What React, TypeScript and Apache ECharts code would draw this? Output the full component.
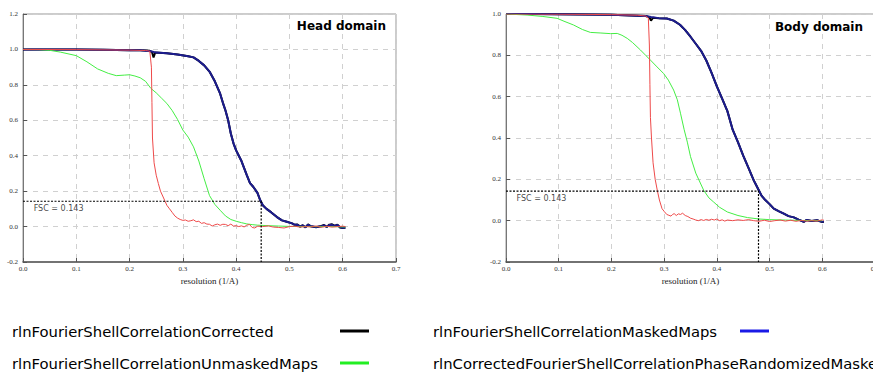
import React, { useEffect, useRef } from "react";
import * as echarts from "echarts";

// ---------- data: Head domain ----------
const headCorrected: [number, number][] = [
  [0, 1.0], [0.05, 1.0], [0.1, 0.999], [0.15, 0.998], [0.2, 0.996], [0.22, 0.995], [0.238, 0.992],
  [0.242, 0.985], [0.245, 0.955], [0.248, 0.982], [0.27, 0.978], [0.29, 0.972], [0.31, 0.962],
  [0.32, 0.955], [0.33, 0.935], [0.34, 0.91], [0.35, 0.875], [0.36, 0.82], [0.37, 0.75], [0.375, 0.7],
  [0.38, 0.655], [0.385, 0.6], [0.39, 0.525], [0.395, 0.47], [0.4, 0.43], [0.405, 0.4], [0.41, 0.37],
  [0.415, 0.33], [0.42, 0.29], [0.426, 0.245], [0.432, 0.225], [0.44, 0.19], [0.445, 0.15], [0.45, 0.12],
  [0.457, 0.1], [0.466, 0.08], [0.476, 0.055], [0.486, 0.035], [0.495, 0.027], [0.505, 0.018],
  [0.51, 0.01], [0.515, 0.012], [0.52, 0.0], [0.525, 0.008], [0.53, -0.005], [0.535, 0.012], [0.54, 0.002],
  [0.55, -0.004], [0.56, 0.003], [0.565, 0.009], [0.57, -0.002], [0.575, 0.011], [0.58, 0.013],
  [0.585, 0.004], [0.59, 0.011], [0.595, -0.005], [0.6, -0.008], [0.605, -0.006],
];
const headMasked: [number, number][] = [
  [0, 1.0], [0.05, 1.0], [0.1, 0.999], [0.15, 0.998], [0.2, 0.996], [0.22, 0.995], [0.24, 0.99],
  [0.25, 0.982], [0.27, 0.978], [0.29, 0.972], [0.31, 0.962], [0.32, 0.955], [0.33, 0.935], [0.34, 0.91],
  [0.35, 0.875], [0.36, 0.82], [0.37, 0.75], [0.375, 0.7], [0.38, 0.655], [0.385, 0.6], [0.39, 0.525],
  [0.395, 0.47], [0.4, 0.43], [0.405, 0.4], [0.41, 0.37], [0.415, 0.33], [0.42, 0.29], [0.426, 0.245],
  [0.432, 0.225], [0.44, 0.19], [0.445, 0.15], [0.45, 0.12], [0.457, 0.1], [0.466, 0.08], [0.476, 0.055],
  [0.486, 0.035], [0.495, 0.027], [0.505, 0.018], [0.51, 0.01], [0.515, 0.01], [0.52, 0.0], [0.525, 0.006],
  [0.53, -0.004], [0.535, 0.01], [0.54, 0.002], [0.55, -0.003], [0.56, 0.002], [0.565, 0.007],
  [0.57, -0.002], [0.575, 0.009], [0.58, 0.01], [0.585, 0.003], [0.59, 0.009], [0.595, -0.004],
  [0.6, -0.007], [0.605, -0.006],
];
const headUnmasked: [number, number][] = [
  [0, 1.0], [0.03, 0.999], [0.05, 0.995], [0.07, 0.985], [0.1, 0.965], [0.12, 0.93], [0.14, 0.89],
  [0.16, 0.865], [0.175, 0.852], [0.19, 0.855], [0.2, 0.857], [0.21, 0.85], [0.22, 0.84], [0.23, 0.82],
  [0.24, 0.78], [0.25, 0.755], [0.26, 0.725], [0.27, 0.695], [0.28, 0.655], [0.29, 0.605], [0.3, 0.545],
  [0.31, 0.505], [0.32, 0.45], [0.33, 0.37], [0.34, 0.27], [0.35, 0.175], [0.36, 0.125], [0.37, 0.092],
  [0.38, 0.06], [0.39, 0.04], [0.4, 0.03], [0.41, 0.022], [0.42, 0.015], [0.43, 0.011], [0.44, 0.008],
  [0.46, 0.005], [0.48, 0.003], [0.5, 0.001], [0.52, 0.0], [0.55, 0.0], [0.58, 0.0], [0.605, -0.002],
];
const headPhaseRandomized: [number, number][] = [
  [0, 1.0], [0.1, 0.999], [0.2, 0.996], [0.23, 0.994], [0.238, 0.99], [0.241, 0.9], [0.242, 0.7],
  [0.243, 0.5], [0.246, 0.36], [0.25, 0.29], [0.254, 0.243], [0.258, 0.2], [0.263, 0.167], [0.27, 0.12],
  [0.275, 0.1], [0.28, 0.08], [0.285, 0.06], [0.29, 0.048], [0.295, 0.04], [0.3, 0.035], [0.305, 0.037],
  [0.31, 0.03], [0.315, 0.033], [0.32, 0.038], [0.325, 0.028], [0.33, 0.03], [0.335, 0.018], [0.34, 0.022],
  [0.345, 0.014], [0.35, 0.013], [0.355, 0.003], [0.36, 0.01], [0.365, 0.014], [0.37, 0.007],
  [0.375, 0.013], [0.38, 0.012], [0.385, 0.005], [0.39, 0.014], [0.395, 0.003], [0.4, 0.005],
  [0.405, 0.0], [0.41, 0.004], [0.415, -0.002], [0.42, 0.008], [0.425, 0.012], [0.43, -0.005],
  [0.435, -0.008], [0.44, 0.002], [0.45, 0.0], [0.46, 0.004], [0.47, -0.003], [0.48, -0.005],
  [0.49, -0.008], [0.5, 0.0], [0.51, 0.002], [0.52, -0.003], [0.53, 0.0], [0.54, -0.002], [0.55, 0.003],
  [0.56, -0.004], [0.57, 0.002], [0.58, -0.003], [0.59, 0.0], [0.6, 0.002], [0.605, 0.0],
];

// ---------- data: Body domain ----------
const bodyCorrected: [number, number][] = [
  [0, 1.0], [0.05, 1.0], [0.1, 0.999], [0.15, 0.998], [0.2, 0.996], [0.25, 0.992], [0.265, 0.99],
  [0.272, 0.985], [0.275, 0.968], [0.279, 0.982], [0.29, 0.98], [0.305, 0.978], [0.318, 0.968],
  [0.33, 0.948], [0.34, 0.922], [0.35, 0.89], [0.36, 0.856], [0.37, 0.822], [0.38, 0.775], [0.39, 0.715],
  [0.4, 0.65], [0.41, 0.59], [0.42, 0.53], [0.43, 0.44], [0.44, 0.38], [0.45, 0.315], [0.46, 0.255],
  [0.47, 0.195], [0.475, 0.17], [0.48, 0.145], [0.485, 0.12], [0.49, 0.105], [0.5, 0.08], [0.508, 0.058],
  [0.518, 0.045], [0.527, 0.034], [0.536, 0.022], [0.546, 0.016], [0.555, 0.005], [0.565, -0.006],
  [0.57, 0.003], [0.58, -0.002], [0.59, 0.002], [0.6, -0.007], [0.603, -0.005],
];
const bodyMasked: [number, number][] = [
  [0, 1.0], [0.05, 1.0], [0.1, 0.999], [0.15, 0.998], [0.2, 0.996], [0.25, 0.992], [0.265, 0.99],
  [0.275, 0.985], [0.29, 0.98], [0.305, 0.978], [0.318, 0.968], [0.33, 0.948], [0.34, 0.922],
  [0.35, 0.89], [0.36, 0.856], [0.37, 0.822], [0.38, 0.775], [0.39, 0.715], [0.4, 0.65], [0.41, 0.59],
  [0.42, 0.53], [0.43, 0.44], [0.44, 0.38], [0.45, 0.315], [0.46, 0.255], [0.47, 0.195], [0.475, 0.17],
  [0.48, 0.145], [0.485, 0.12], [0.49, 0.105], [0.5, 0.08], [0.508, 0.058], [0.518, 0.045],
  [0.527, 0.034], [0.536, 0.022], [0.546, 0.016], [0.555, 0.005], [0.565, -0.005], [0.57, 0.003],
  [0.58, -0.002], [0.59, 0.002], [0.6, -0.006], [0.603, -0.004],
];
const bodyUnmasked: [number, number][] = [
  [0, 1.0], [0.04, 0.995], [0.07, 0.988], [0.097, 0.979], [0.11, 0.965], [0.128, 0.947], [0.145, 0.925],
  [0.16, 0.911], [0.18, 0.908], [0.198, 0.905], [0.211, 0.906], [0.22, 0.897], [0.23, 0.882],
  [0.24, 0.862], [0.255, 0.826], [0.265, 0.8], [0.274, 0.777], [0.285, 0.748], [0.299, 0.712],
  [0.308, 0.68], [0.318, 0.632], [0.325, 0.585], [0.331, 0.52], [0.338, 0.44], [0.344, 0.38],
  [0.35, 0.31], [0.36, 0.23], [0.375, 0.147], [0.385, 0.11], [0.394, 0.09], [0.405, 0.065],
  [0.42, 0.042], [0.44, 0.025], [0.458, 0.015], [0.48, 0.008], [0.5, 0.005], [0.53, 0.003],
  [0.56, 0.001], [0.6, 0.0],
];
const bodyPhaseRandomized: [number, number][] = [
  [0, 1.0], [0.1, 0.999], [0.2, 0.997], [0.25, 0.994], [0.265, 0.99], [0.27, 0.98], [0.272, 0.85],
  [0.273, 0.66], [0.274, 0.5], [0.276, 0.4], [0.279, 0.28], [0.283, 0.2], [0.287, 0.147], [0.291, 0.1],
  [0.296, 0.058], [0.3, 0.045], [0.305, 0.03], [0.309, 0.026], [0.313, 0.022], [0.316, 0.03],
  [0.319, 0.034], [0.323, 0.025], [0.327, 0.033], [0.331, 0.03], [0.335, 0.036], [0.34, 0.025],
  [0.345, 0.02], [0.35, 0.012], [0.355, 0.008], [0.36, 0.003], [0.365, 0.0], [0.37, 0.005],
  [0.375, 0.001], [0.38, 0.006], [0.385, 0.002], [0.39, 0.007], [0.395, 0.003], [0.4, 0.008],
  [0.405, 0.0], [0.41, 0.004], [0.415, -0.002], [0.42, 0.003], [0.43, 0.0], [0.44, 0.004],
  [0.45, 0.001], [0.46, 0.005], [0.47, 0.0], [0.48, -0.003], [0.49, 0.002], [0.5, -0.004], [0.51, 0.0],
  [0.52, 0.003], [0.53, -0.002], [0.54, 0.002], [0.55, -0.003], [0.56, 0.001], [0.57, -0.002],
  [0.58, 0.0], [0.59, -0.002], [0.6, 0.004], [0.603, 0.002],
];

// FSC threshold & crossing resolutions
const fscThreshold = 0.143;
const headCrossing = 0.447;
const bodyCrossing = 0.479;

const panelTitles = ["Head domain", "Body domain"];
const yMaxes = [1.2, 1.0];
const seriesNames = [
  "rlnFourierShellCorrelationCorrected",
  "rlnFourierShellCorrelationMaskedMaps",
  "rlnFourierShellCorrelationUnmaskedMaps",
  "rlnCorrectedFourierShellCorrelationPhaseRandomizedMaskedMaps",
];

const COL_BLACK = "#000000";
const COL_BLUE = "#1c1c8e";
const COL_GREEN = "#44ee44";
const COL_RED = "#ee4a4a";

export default function App() {
  const ref = useRef<HTMLDivElement>(null);

  useEffect(() => {
    if (!ref.current) return;
    const chart = echarts.init(ref.current, undefined, { renderer: "svg" });

    const serif = "'Liberation Serif', 'DejaVu Serif', serif";
    const sans = "'DejaVu Sans', sans-serif";

    const mkX = (gi: number) => ({
      type: "value",
      gridIndex: gi,
      min: 0,
      max: 0.7,
      interval: 0.1,
      name: "resolution (1/A)",
      nameLocation: "middle",
      nameGap: 9,
      nameTextStyle: { fontFamily: serif, fontSize: 9, color: "#222" },
      axisLine: { show: true, onZero: false, lineStyle: { color: "#555", width: 1.5 } },
      axisTick: { show: true, inside: true, length: 4, lineStyle: { color: "#555" } },
      axisLabel: {
        fontFamily: serif,
        fontSize: 7,
        color: "#333",
        margin: 3,
        formatter: (v: number) => v.toFixed(1),
      },
      splitLine: { show: true, lineStyle: { color: "#d0d0d0", type: [5, 5], width: 1 } },
    });
    const mkY = (gi: number, max: number) => ({
      type: "value",
      gridIndex: gi,
      min: -0.2,
      max,
      interval: 0.2,
      axisLine: { show: true, onZero: false, lineStyle: { color: "#777", width: 1 } },
      axisTick: { show: true, inside: true, length: 4, lineStyle: { color: "#555" } },
      axisLabel: {
        fontFamily: serif,
        fontSize: 7,
        color: "#333",
        margin: 5,
        formatter: (v: number) => v.toFixed(1),
      },
      splitLine: { show: true, lineStyle: { color: "#d0d0d0", type: [5, 5], width: 1 } },
    });

    const lineSeries = (
      name: string,
      data: [number, number][],
      gi: number,
      color: string,
      width: number
    ) => ({
      name,
      type: "line",
      xAxisIndex: gi,
      yAxisIndex: gi,
      data,
      showSymbol: false,
      symbol: "none",
      lineStyle: { color, width },
      itemStyle: { color },
      z: 3,
    });

    const fscSeries = (gi: number, crossing: number) => [
      {
        type: "line",
        xAxisIndex: gi,
        yAxisIndex: gi,
        data: [
          [0, fscThreshold],
          [crossing, fscThreshold],
          [crossing, -0.2],
        ],
        symbol: "none",
        lineStyle: { color: "#000", width: 1.2, type: [2, 1.5] },
        z: 4,
      },
      {
        type: "scatter",
        xAxisIndex: gi,
        yAxisIndex: gi,
        data: [[0.02, fscThreshold]],
        symbolSize: 0,
        label: {
          show: true,
          position: [0, 3],
          align: "left",
          verticalAlign: "top",
          formatter: "FSC = " + fscThreshold.toFixed(3),
          fontFamily: sans,
          fontSize: 8,
          color: "#111",
        },
        z: 4,
      },
    ];

    const panels = [
      [headCorrected, headMasked, headUnmasked, headPhaseRandomized, headCrossing],
      [bodyCorrected, bodyMasked, bodyUnmasked, bodyPhaseRandomized, bodyCrossing],
    ] as const;

    const series: any[] = [];
    panels.forEach((p, gi) => {
      series.push(lineSeries(seriesNames[0], p[0] as any, gi, COL_BLACK, 2));
      series.push(lineSeries(seriesNames[1], p[1] as any, gi, COL_BLUE, 2));
      series.push(lineSeries(seriesNames[2], p[2] as any, gi, COL_GREEN, 1));
      series.push(lineSeries(seriesNames[3], p[3] as any, gi, COL_RED, 1));
      series.push(...fscSeries(gi, p[4] as number));
    });

    const legendFont = { fontFamily: sans, fontSize: 14.8, fill: "#000" };
    const legendRows = [
      { text: seriesNames[0], x: 12, y: 331, color: "#000000", lx: 340 },
      { text: seriesNames[1], x: 433, y: 331, color: "#1a1ae6", lx: 740 },
      { text: seriesNames[2], x: 12, y: 363, color: "#22ee22", lx: 340 },
      { text: seriesNames[3], x: 433, y: 363, color: COL_RED, lx: 1200 },
    ];
    const graphic: any[] = [];
    legendRows.forEach((r) => {
      graphic.push({
        type: "text",
        x: r.x,
        y: r.y,
        style: { ...legendFont, text: r.text, textVerticalAlign: "middle", verticalAlign: "middle" },
      });
      graphic.push({
        type: "line",
        shape: { x1: r.lx, y1: r.y, x2: r.lx + 29, y2: r.y },
        style: { stroke: r.color, lineWidth: 3 },
      });
    });

    chart.setOption({
      animation: false,
      backgroundColor: "#ffffff",
      title: [
        {
          text: panelTitles[0],
          right: 487,
          top: 20,
          padding: 0,
          textStyle: { fontFamily: sans, fontSize: 12, fontWeight: "bold", color: "#000" },
        },
        {
          text: panelTitles[1],
          right: 10,
          top: 21,
          padding: 0,
          textStyle: { fontFamily: sans, fontSize: 12, fontWeight: "bold", color: "#000" },
        },
      ],
      grid: [
        { left: 23, top: 14, width: 373, height: 248, outerBoundsMode: "none", containLabel: false, show: true, borderColor: "#999", borderWidth: 1, backgroundColor: "transparent" },
        { left: 506, top: 14, width: 369, height: 248, outerBoundsMode: "none", containLabel: false, show: true, borderColor: "#999", borderWidth: 1, backgroundColor: "transparent" },
      ],
      xAxis: [mkX(0), mkX(1)],
      yAxis: [mkY(0, yMaxes[0]), mkY(1, yMaxes[1])],
      series,
      graphic,
    });

    return () => chart.dispose();
  }, []);

  return (
    <div
      ref={ref}
      style={{ position: "absolute", left: 0, top: 0, width: 873, height: 374, overflow: "hidden" }}
    />
  );
}
